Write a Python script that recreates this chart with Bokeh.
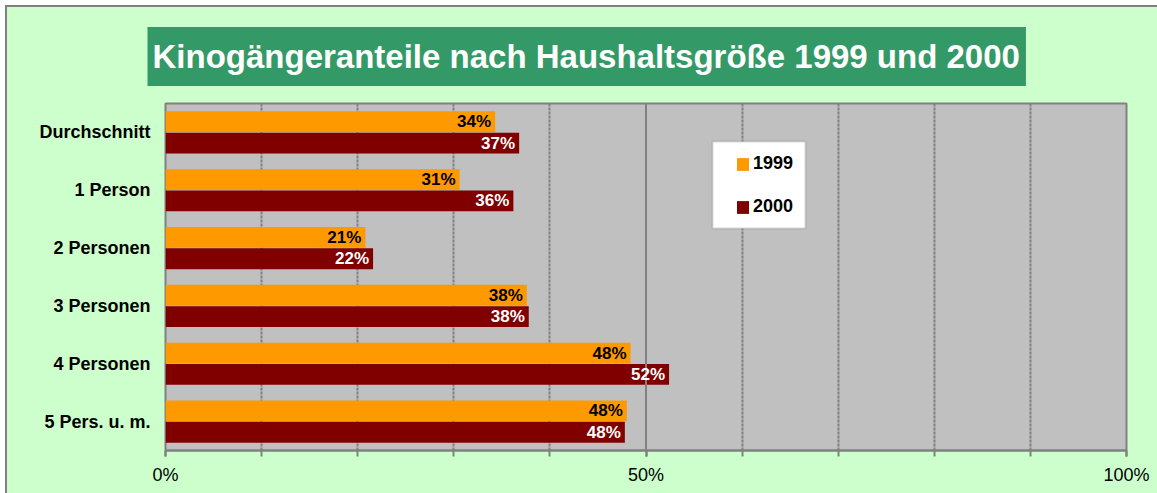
from bokeh.plotting import figure
from bokeh.models import (ColumnDataSource, FactorRange, Range1d, FixedTicker, LabelSet,
                          Span, BoxAnnotation, Legend, LegendItem)
from bokeh.transform import dodge
from bokeh.core.properties import value
from bokeh.embed import file_html
from bokeh.resources import INLINE

# ---- data ----
categories = ["Durchschnitt", "1 Person", "2 Personen", "3 Personen", "4 Personen", "5 Pers. u. m."]
share_1999 = [34.3, 30.6, 20.8, 37.6, 48.4, 48.0]
share_2000 = [36.8, 36.2, 21.6, 37.8, 52.4, 47.8]
series_names = ["1999", "2000"]
x_tick_values = [0, 50, 100]
x_tick_labels = ["0%", "50%", "100%"]
x_minor_ticks = [0, 10, 20, 30, 40, 50, 60, 70, 80, 90, 100]
title_text = "Kinogängeranteile nach Haushaltsgröße 1999 und 2000"

FONT_NAME = "Liberation Sans"
FONT = value(FONT_NAME)
GRAY = "#808080"
BG = "#CCFFCC"

src = ColumnDataSource(dict(
    cat=categories,
    v1999=share_1999,
    v2000=share_2000,
    l1999=[f"{round(v)}%" for v in share_1999],
    l2000=[f"{round(v)}%" for v in share_2000],
))

p = figure(
    y_range=FactorRange(factors=list(reversed(categories))),
    x_range=Range1d(0, 100),
    frame_width=961, frame_height=347,
    min_border_left=165, min_border_right=31, min_border_top=103, min_border_bottom=43,
    output_backend="svg", toolbar_location=None,
    border_fill_color=BG, border_fill_alpha=0.0, background_fill_color="#C0C0C0",
    outline_line_color=GRAY, outline_line_width=2,
)
p.styles = {
    "background": ("linear-gradient(%s,%s) 7px 7px / 100%% 100%% no-repeat, "
                   "linear-gradient(%s,%s) 5px 5px / 100%% 100%% no-repeat, white")
                  % (BG, BG, GRAY, GRAY)
}

# title
p.title.text = title_text
p.title.align = "left"
p.title.vertical_align = "top"
p.title.offset = -18
p.title.standoff = 31
p.title.text_color = "white"
p.title.text_font = FONT_NAME
p.title.text_font_style = "bold"
p.title.text_font_size = "33px"
p.title.background_fill_color = "#339966"
p.title.padding = dict(left=5, right=6, top=11, bottom=11)

# grid
p.ygrid.visible = False
p.xgrid.ticker = FixedTicker(ticks=[t for t in x_minor_ticks if t not in (0, 50, 100)])
p.xgrid.grid_line_color = GRAY
p.xgrid.grid_line_width = 2
p.xgrid.grid_line_dash = "3 1"
p.add_layout(Span(location=x_tick_values[1], dimension="height", line_color=GRAY, line_width=2))

# bars
r1 = p.hbar(y=dodge("cat", 0.185, range=p.y_range), left=0, right="v1999", height=0.36,
            source=src, fill_color="#FF9900", line_color=None)
r2 = p.hbar(y=dodge("cat", -0.185, range=p.y_range), left=0, right="v2000", height=0.36,
            source=src, fill_color="#800000", line_color=None)

# value labels
p.add_layout(LabelSet(x="v1999", y=dodge("cat", 0.185, range=p.y_range), text="l1999", source=src,
                      x_offset=-4, text_align="right", text_baseline="middle",
                      text_font=FONT, text_font_style="bold", text_font_size="17px",
                      text_color="black"))
p.add_layout(LabelSet(x="v2000", y=dodge("cat", -0.185, range=p.y_range), text="l2000", source=src,
                      x_offset=-4, text_align="right", text_baseline="middle",
                      text_font=FONT, text_font_style="bold", text_font_size="17px",
                      text_color="white"))

# x axis
xa = p.below[0]
xa.ticker = FixedTicker(ticks=x_tick_values, minor_ticks=x_minor_ticks)
xa.major_label_overrides = {t: l for t, l in zip(x_tick_values, x_tick_labels)}
xa.axis_line_color = GRAY
xa.axis_line_width = 2
xa.major_tick_line_color = GRAY
xa.major_tick_line_width = 2
xa.minor_tick_line_color = GRAY
xa.minor_tick_line_width = 2
xa.major_tick_in = 0
xa.major_tick_out = 6
xa.minor_tick_in = 0
xa.minor_tick_out = 6
xa.major_label_standoff = 8
xa.major_label_text_font = FONT_NAME
xa.major_label_text_font_size = "18px"
xa.major_label_text_color = "black"

# y axis
ya = p.left[0]
ya.axis_line_color = None
ya.major_tick_line_color = None
ya.major_tick_in = 0
ya.major_tick_out = 0
ya.major_label_standoff = 15
ya.major_label_text_font = FONT_NAME
ya.major_label_text_font_style = "bold"
ya.major_label_text_font_size = "18px"
ya.major_label_text_color = "black"

# legend box + legend
p.add_layout(BoxAnnotation(left=547, right=640, top=309, bottom=222,
                           left_units="screen", right_units="screen",
                           top_units="screen", bottom_units="screen",
                           fill_color="white", fill_alpha=1.0,
                           line_color=GRAY, line_width=2))
legend = Legend(
    items=[LegendItem(label=series_names[0], renderers=[r1]),
           LegendItem(label=series_names[1], renderers=[r2])],
    location=(570, 233), padding=0, margin=0, spacing=22,
    glyph_width=15, glyph_height=16, label_standoff=3,
    label_text_font=FONT_NAME, label_text_font_style="bold", label_text_font_size="18px",
    label_text_color="black",
    background_fill_alpha=0, border_line_color=None,
)
p.add_layout(legend, "center")

open("out.html", "w").write(file_html(p, INLINE))
